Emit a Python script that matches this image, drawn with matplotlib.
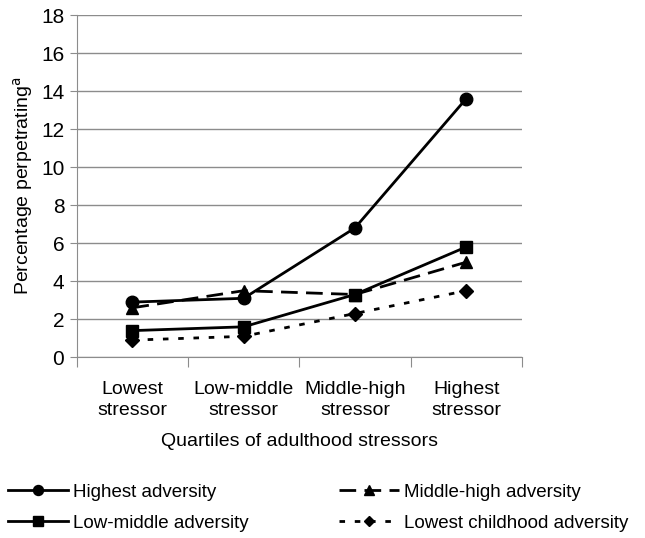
import matplotlib
matplotlib.use("Agg")
import matplotlib.pyplot as plt

plt.rcParams['font.family'] = ['Liberation Sans', 'DejaVu Sans']

categories = ["Lowest\nstressor", "Low-middle\nstressor", "Middle-high\nstressor", "Highest\nstressor"]
highest = [2.9, 3.1, 6.8, 13.6]
low_middle = [1.4, 1.6, 3.3, 5.8]
middle_high = [2.6, 3.5, 3.3, 5.0]
lowest = [0.9, 1.1, 2.3, 3.5]

fig = plt.figure(figsize=(6.45, 5.38), dpi=100)
ax = fig.add_axes([0.119, 0.336, 0.690, 0.636])

x = range(len(categories))
grey = "#8c8c8c"

l1, = ax.plot(x, highest, color="black", lw=2, marker="o", ms=9, label="Highest adversity")
l2, = ax.plot(x, low_middle, color="black", lw=2, marker="s", ms=8.5, label="Low-middle adversity")
l3, = ax.plot(x, middle_high, color="black", lw=2, marker="^", ms=9, dashes=(6, 3),
              label="Middle-high adversity")
l4, = ax.plot(x, lowest, color="black", lw=2, marker="D", ms=7, dashes=(2, 3.5),
              label="Lowest childhood adversity")

ax.set_xlim(-0.5, 3.5)
ax.set_ylim(0, 18)
ax.set_yticks(range(0, 19, 2))
ax.yaxis.grid(True, color=grey, lw=1)
ax.set_axisbelow(True)

ax.set_xticks([-0.5, 0.5, 1.5, 2.5, 3.5])
ax.set_xticklabels([])
ax.set_xticks(list(x), minor=True)
ax.set_xticklabels(categories, minor=True, fontsize=14, linespacing=1.3)
ax.tick_params(axis="x", which="major", length=7, color=grey, direction="out")
ax.tick_params(axis="x", which="minor", length=0, pad=17)
ax.tick_params(axis="y", length=5, color=grey, labelsize=15, pad=4)

for s in ["top", "right"]:
    ax.spines[s].set_visible(False)
for s in ["left", "bottom"]:
    ax.spines[s].set_color(grey)

ax.set_ylabel("Percentage perpetrating$^{\\mathrm{a}}$", fontsize=14, labelpad=4)
ax.set_xlabel("Quartiles of adulthood stressors", fontsize=14, labelpad=10)

fig.legend(handles=[l1, l2, l3, l4], ncol=2, loc="upper left",
           bbox_to_anchor=(0.0, 1 - 476 / 538), borderaxespad=0,
           frameon=False, fontsize=13.5, handlelength=3.2, columnspacing=4.8,
           handletextpad=0.3, labelspacing=0.75, markerscale=0.8)

fig.savefig("out.png", dpi=100)
